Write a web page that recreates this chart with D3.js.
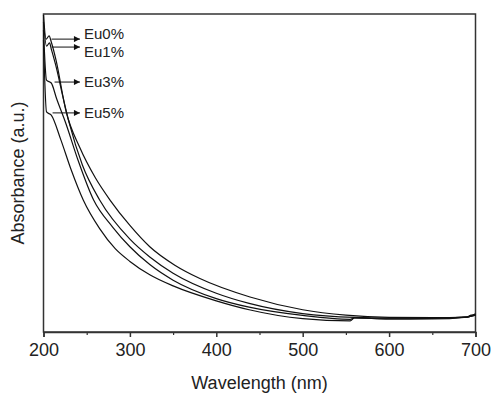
<!DOCTYPE html>
<html>
<head>
<meta charset="utf-8">
<script src="https://cdn.jsdelivr.net/npm/d3@7"></script>
<style>
  body { margin: 0; background: #fff; }
  text { font-family: "Liberation Sans", Arial, sans-serif; fill: #222; }
</style>
</head>
<body>
<svg id="chart" width="491" height="393"></svg>
<script>
// wavelength (nm), absorbance (a.u.)
const eu0 = [[200,.997],[203,.921],[206.5,.931],[209,.912],[214.5,.855],[226,.695],[242,.580],[260,.485],[277,.415],[300,.335],[323,.268],[352,.210],[381,.168],[439,.110],[500,.070],[550,.053],[600,.046],[650,.045],[690,.047],[695,.053],[700,.054]];
const eu1 = [[200,.975],[203.5,.899],[207,.909],[209,.890],[215,.830],[222,.745],[230,.655],[245,.525],[265,.415],[300,.292],[323,.236],[350,.185],[400,.122],[438,.090],[500,.058],[560,.046],[600,.044],[650,.044],[690,.047],[700,.053]];
const eu3 = [[200,.950],[203.5,.792],[209,.783],[215,.735],[226,.655],[240,.540],[258,.415],[280,.330],[300,.268],[323,.212],[350,.163],[400,.105],[438,.078],[500,.052],[555,.040],[560,.044],[600,.041],[650,.043],[690,.047],[700,.053]];
const eu5 = [[200,.918],[203.5,.692],[209,.682],[220,.605],[232,.510],[246,.415],[265,.325],[283,.262],[300,.222],[323,.180],[350,.145],[400,.098],[438,.070],[500,.042],[555,.035],[560,.044],[600,.041],[650,.041],[690,.047],[700,.057]];

const seriesNames = ['Eu0%', 'Eu1%', 'Eu3%', 'Eu5%'];
// arrow: start wavelength, end wavelength, absorbance level
const arrowStart = [209.3, 209.3, 212.8, 210.5];
const arrowEnd = [242.2, 242.2, 242.2, 242.2];
const arrowLevel = [.921, .896, .786, .689];
const labelShift = [0, 10, 5, 5]; // text baseline offset vs arrow (px)

const xTicks = [200, 300, 400, 500, 600, 700];
const xMinor = [250, 350, 450, 550, 650];

const svg = d3.select('#chart');
const m = { left: 43.5, right: 475.5, top: 14, bottom: 332 };

const x = d3.scaleLinear().domain([200, 700]).range([m.left, m.right]);
const y = d3.scaleLinear().domain([0, 1]).range([m.bottom, m.top]);

// frame
svg.append('rect')
  .attr('x', m.left).attr('y', m.top)
  .attr('width', m.right - m.left).attr('height', m.bottom - m.top)
  .attr('fill', 'none').attr('stroke', '#333').attr('stroke-width', 1.5);

// x axis
const xAxis = svg.append('g').attr('transform', `translate(0,${m.bottom})`)
  .call(d3.axisBottom(x).tickValues(xTicks).tickSize(5).tickPadding(6).tickFormat(d3.format('d')));
xAxis.select('.domain').attr('stroke', '#333').attr('stroke-width', 1.5);
xAxis.selectAll('.tick line').attr('stroke', '#333').attr('stroke-width', 1.5);
xAxis.selectAll('.tick text')
  .style('font-family', '"Liberation Sans", Arial, sans-serif')
  .style('font-size', '18px').attr('fill', '#222');

svg.append('g').attr('transform', `translate(0,${m.bottom})`)
  .call(d3.axisBottom(x).tickValues(xMinor).tickSize(3).tickFormat(''))
  .call(g => g.select('.domain').remove())
  .selectAll('.tick line').attr('stroke', '#333').attr('stroke-width', 1.2);

svg.append('text')
  .attr('x', (m.left + m.right) / 2).attr('y', 389)
  .attr('text-anchor', 'middle')
  .style('font-size', '18px')
  .text('Wavelength (nm)');

svg.append('text')
  .attr('transform', `translate(24,${(m.top + m.bottom) / 2}) rotate(-90)`)
  .attr('text-anchor', 'middle')
  .style('font-size', '18px')
  .text('Absorbance (a.u.)');

// spectra
const line = d3.line()
  .x(d => x(d[0]))
  .y(d => y(d[1]))
  .curve(d3.curveMonotoneX);

[eu0, eu1, eu3, eu5].forEach(s => {
  svg.append('path')
    .datum(s)
    .attr('d', line)
    .attr('fill', 'none')
    .attr('stroke', '#111')
    .attr('stroke-width', 1.2);
});

// arrows + labels
const defs = svg.append('defs');
defs.append('marker')
  .attr('id', 'arr')
  .attr('viewBox', '0 0 10 10')
  .attr('refX', 10).attr('refY', 5)
  .attr('markerWidth', 9).attr('markerHeight', 6)
  .attr('markerUnits', 'userSpaceOnUse')
  .attr('orient', 'auto')
  .append('path').attr('d', 'M0,0L10,5L0,10Z').attr('fill', '#111');

seriesNames.forEach((name, i) => {
  svg.append('line')
    .attr('x1', x(arrowStart[i])).attr('x2', x(arrowEnd[i]))
    .attr('y1', y(arrowLevel[i])).attr('y2', y(arrowLevel[i]))
    .attr('stroke', '#111').attr('stroke-width', 1)
    .attr('marker-end', 'url(#arr)');
  svg.append('text')
    .attr('x', x(arrowEnd[i]) + 4)
    .attr('y', y(arrowLevel[i]) + labelShift[i])
    .style('font-size', '15px')
    .text(name);
});
</script>
</body>
</html>
